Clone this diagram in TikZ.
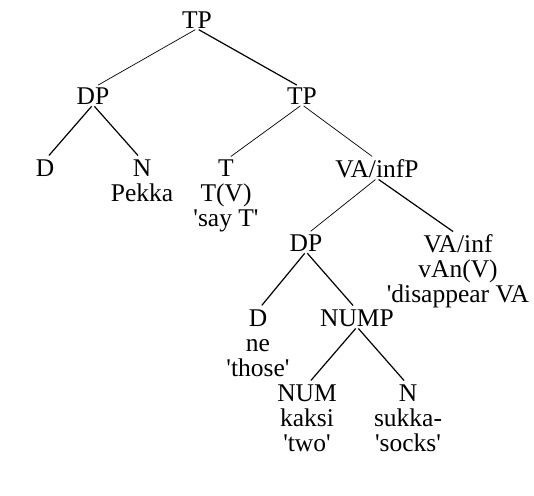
\documentclass[tikz,border=0pt]{standalone}
\usepackage{fontspec}
\newfontfamily\lserif{Liberation Serif}
\begin{document}
\begin{tikzpicture}[x=1pt,y=-1pt,
  lab/.style={anchor=north,inner sep=0pt,outer sep=0pt,align=center,text=black,
    font=\lserif\fontsize{25.5}{25}\selectfont},
  br/.style={draw=black,line width=0.7pt,shorten <=2pt,shorten >=6pt},
  brk/.style={br,line width=1.2pt}]
\useasboundingbox (0,0) rectangle (534,495);
% row 1
\node[lab] (tp) at (197,12) {TP};
% row 2
\node[lab] (dp) at (93,88) {DP};
\node[lab] (tpb) at (302,88) {TP};
% row 3
\node[lab] (d) at (45,160) {D};
\node[lab] (n) at (142,160) {N\\Pekka};
\node[lab] (t) at (226,160) {T\\T(V)\\'say T'};
\node[lab] (va) at (377,160) {VA/infP};
% row 4
\node[lab] (dpb) at (306,235) {DP};
\node[lab] (vainf) at (458,235) {VA/inf\\vAn(V)\\'disappear VA};
% row 5
\node[lab] (db) at (258,310) {D\\ne\\'those'};
\node[lab] (nump) at (357,310) {NUMP};
% row 6
\node[lab] (num) at (307,385) {NUM\\kaksi\\'two'};
\node[lab] (nb) at (408,385) {N\\sukka-\\'socks'};
% branches
\draw[br] (tp.south) -- (dp.north);
\draw[brk] (tp.south) -- (tpb.north);
\draw[brk] (dp.south) -- (d.north);
\draw[brk] (dp.south) -- (n.north);
\draw[br] (tpb.south) -- (t.north);
\draw[br] (tpb.south) -- (va.north);
\draw[br] (va.south) -- (dpb.north);
\draw[brk] (va.south) -- (vainf.north);
\draw[brk] (dpb.south) -- (db.north);
\draw[brk] (dpb.south) -- (nump.north);
\draw[brk] (nump.south) -- (num.north);
\draw[brk] (nump.south) -- (nb.north);
\end{tikzpicture}
\end{document}
